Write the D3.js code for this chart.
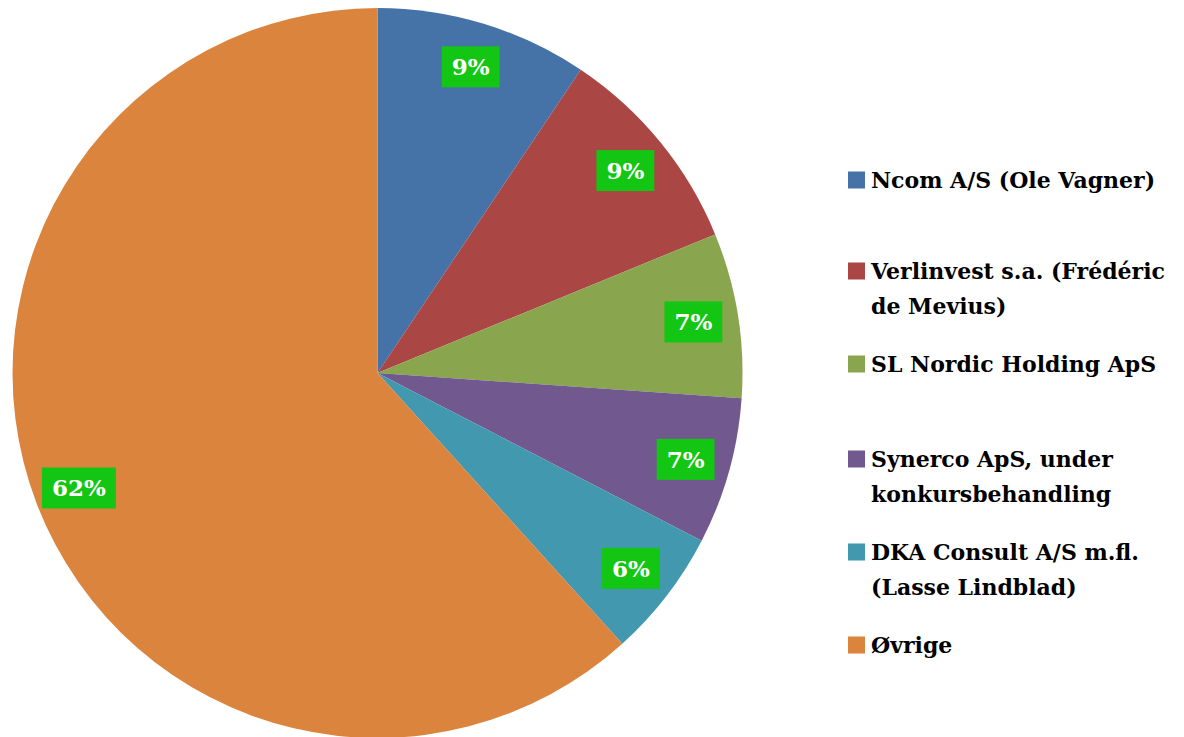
<!DOCTYPE html>
<html><head><meta charset="utf-8">
<script src="https://cdn.jsdelivr.net/npm/d3@7"></script>
<style>html,body{margin:0;padding:0;background:#fff;}svg{display:block;}</style>
</head><body>
<svg id="c" width="1184" height="737"></svg>
<script>
const categories = ["Ncom A/S (Ole Vagner)", "Verlinvest s.a. (Frédéric de Mevius)", "SL Nordic Holding ApS", "Synerco ApS, under konkursbehandling", "DKA Consult A/S m.fl. (Lasse Lindblad)", "Øvrige"];
const legendLines = [["Ncom A/S (Ole Vagner)"], ["Verlinvest s.a. (Frédéric", "de Mevius)"], ["SL Nordic Holding ApS"], ["Synerco ApS, under", "konkursbehandling"], ["DKA Consult A/S m.fl.", "(Lasse Lindblad)"], ["Øvrige"]];
const values = [9.4, 9.4, 7.3, 6.5, 5.7, 61.7];
const colors = ["#4572A7", "#AA4643", "#89A54E", "#71588F", "#4198AF", "#DB843D"];

const svg = d3.select("#c");
const cx = 377.5, cy = 373, R = 365, labelR = 320;
const font = "'DejaVu Serif', serif";
const total = d3.sum(values);
const pie = d3.pie().sort(null).value(d => d)(values);
const arc = d3.arc().innerRadius(0).outerRadius(R);
const lblArc = d3.arc().innerRadius(labelR).outerRadius(labelR);
const g = svg.append("g").attr("transform", `translate(${cx},${cy})`);
g.selectAll("path.s").data(pie).join("path").attr("class","s")
  .attr("d", arc).attr("fill", (d,i) => colors[i]);

const fmt = d3.format(".0%");
const lg = g.selectAll("g.l").data(pie).join("g").attr("class","l")
  .attr("transform", d => `translate(${lblArc.centroid(d)})`);
lg.each(function(d){
  const gg = d3.select(this);
  const t = gg.append("text").text(fmt(d.value/total))
    .attr("text-anchor","middle").attr("dy","0.36em")
    .attr("font-family", font).attr("font-size", 23).attr("font-weight","bold")
    .attr("fill","#fff");
  const w = t.node().getComputedTextLength();
  gg.insert("rect","text").attr("x", -w/2-10).attr("y",-20.5)
    .attr("width", w+20).attr("height", 41).attr("fill","#13C613");
});

const rowY = [180, 271, 364, 459, 552, 645];
const leg = svg.append("g");
categories.forEach((c,i) => {
  leg.append("rect").attr("x", 848).attr("y", rowY[i]-8.5).attr("width",17).attr("height",17).attr("fill", colors[i]);
  const t = leg.append("text").attr("x", 871).attr("y", rowY[i])
    .attr("font-family", font).attr("font-size", 22).attr("font-weight","bold").attr("fill","#000");
  legendLines[i].forEach((ln,j) => {
    t.append("tspan").attr("x", 871).attr("dy", j===0 ? "0.36em" : 35).text(ln);
  });
});
</script>
</body></html>
